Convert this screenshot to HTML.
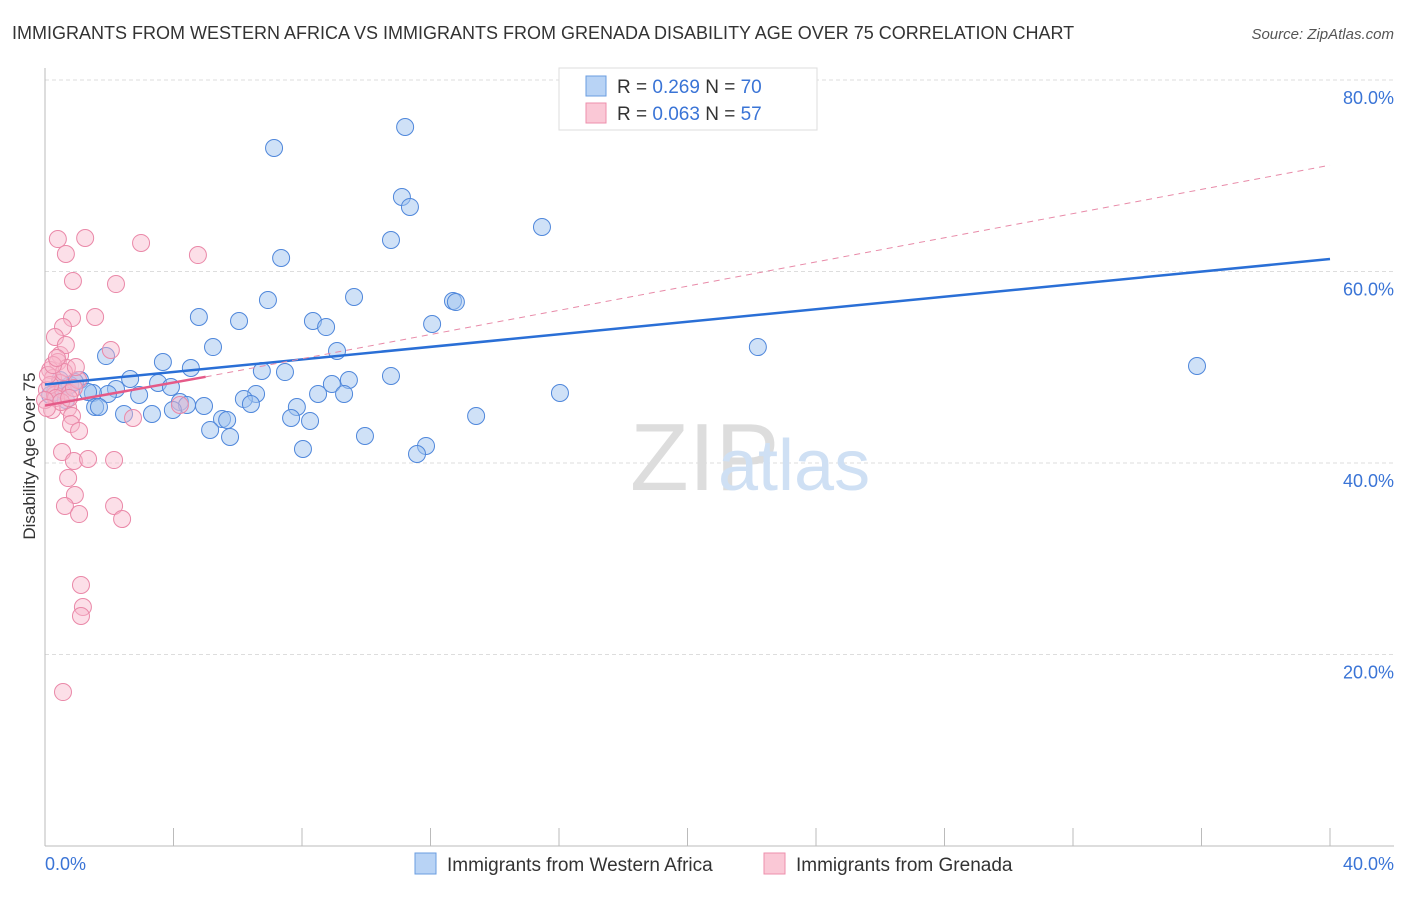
<!DOCTYPE html>
<html><head><meta charset="utf-8"><style>
body{margin:0;background:#fff;font-family:"Liberation Sans",sans-serif;}
svg text{font-family:"Liberation Sans",sans-serif;}
</style></head><body>
<svg width="1406" height="892">
<text x="12" y="39" font-size="18" fill="#333">IMMIGRANTS FROM WESTERN AFRICA VS IMMIGRANTS FROM GRENADA DISABILITY AGE OVER 75 CORRELATION CHART</text>
<text x="1394" y="39" font-size="15" fill="#555" font-style="italic" text-anchor="end">Source: ZipAtlas.com</text>
<g id="grid"></g>
<line x1="45" y1="68" x2="45" y2="846" stroke="#bbb"/>
<line x1="45" y1="846" x2="1394" y2="846" stroke="#bbb"/>
<text x="630" y="490" font-size="96" fill="#ddd" font-family="Liberation Serif">ZIP</text>
<text x="718" y="490" font-size="72" fill="#cfe0f4">atlas</text>
<text x="35" y="456" font-size="17" fill="#333" text-anchor="middle" transform="rotate(-90 35 456)">Disability Age Over 75</text>
<text x="45" y="870" font-size="18" fill="#3a74d6">0.0%</text>
<text x="1394" y="870" font-size="18" fill="#3a74d6" text-anchor="end">40.0%</text>
<g id="pts"></g>
<g id="lines"></g>
<g>
<rect x="559" y="68" width="258" height="62" fill="#fff" stroke="#ddd"/>
<rect x="586" y="76" width="20" height="20" fill="#b8d3f5" stroke="#6a9de0"/>
<text x="617" y="93" font-size="19" fill="#333">R = <tspan fill="#3a74d6">0.269</tspan>   N = <tspan fill="#3a74d6">70</tspan></text>
<rect x="586" y="103" width="20" height="20" fill="#fac8d6" stroke="#ee8fac"/>
<text x="617" y="120" font-size="19" fill="#333">R = <tspan fill="#3a74d6">0.063</tspan>   N = <tspan fill="#3a74d6">57</tspan></text>
</g>
<g>
<rect x="415" y="853" width="21" height="21" fill="#b8d3f5" stroke="#6a9de0"/>
<text x="447" y="871" font-size="19" fill="#333">Immigrants from Western Africa</text>
<rect x="764" y="853" width="21" height="21" fill="#fac8d6" stroke="#ee8fac"/>
<text x="796" y="871" font-size="19" fill="#333">Immigrants from Grenada</text>
</g>
</svg>
<script>
const yTicks=[20,40,60,80];
const xTicks=[0,4,8,12,16,20,24,28,32,36,40];
const bluePx=[[405,127],[274,148],[402,197],[410,207],[542,227],[391,240],[281,258],[268,300],[354,297],[453,301],[456,302],[199,317],[239,321],[313,321],[326,327],[432,324],[213,347],[337,351],[758,347],[106,356],[163,362],[191,368],[262,371],[285,372],[1197,366],[391,376],[130,379],[158,383],[80,380],[116,389],[171,387],[332,384],[349,380],[256,394],[560,393],[244,399],[318,394],[344,394],[139,395],[108,394],[93,393],[180,402],[187,405],[95,407],[99,407],[124,414],[152,414],[204,406],[251,404],[297,407],[476,416],[173,410],[222,419],[227,420],[291,418],[310,421],[210,430],[230,437],[365,436],[426,446],[303,449],[417,454],[62,388],[55,392],[70,385],[75,382],[50,395],[66,400],[88,392],[60,380]];
const pinkPx=[[58,239],[85,238],[141,243],[66,254],[198,255],[73,281],[116,284],[95,317],[72,318],[63,327],[55,337],[111,350],[60,355],[58,362],[67,368],[50,370],[53,378],[60,383],[47,390],[55,395],[63,390],[70,393],[78,380],[74,388],[52,410],[68,408],[180,405],[133,418],[72,416],[71,424],[79,431],[62,452],[74,461],[88,459],[114,460],[68,478],[75,495],[65,506],[114,506],[79,514],[122,519],[81,585],[83,607],[81,616],[63,692],[50,385],[48,375],[56,398],[64,372],[45,400],[53,365],[76,367],[61,402],[47,408],[66,345],[57,358],[69,398]];
// convert reading estimates to data values (x %, y %)
const blueX=bluePx.map(p=>+((p[0]-45)/32.125).toFixed(2));
const blueY=bluePx.map(p=>+((846-p[1])/9.575).toFixed(2));
const pinkX=pinkPx.map(p=>+((p[0]-45)/32.125).toFixed(2));
const pinkY=pinkPx.map(p=>+((846-p[1])/9.575).toFixed(2));
const blueTrend=[[0,48.2],[40,61.3]];
const pinkTrend=[[0,46.0],[5,49.0],[40,71.1]];
const NS='http://www.w3.org/2000/svg';
const sx=v=>45+v*32.125, sy=v=>846-v*9.575;
function mk(t,a,parent){const e=document.createElementNS(NS,t);for(const k in a)e.setAttribute(k,a[k]);document.getElementById(parent).appendChild(e);return e;}
yTicks.forEach(t=>{
 const l=mk('line',{x1:45,x2:1394,y1:sy(t),y2:sy(t),stroke:'#ddd','stroke-dasharray':'4,3'},'grid');
 
 
 const tx=mk('text',{x:1394,y:sy(t)+24,'font-size':18,fill:'#3a74d6','text-anchor':'end'},'grid');
 tx.textContent=t.toFixed(1)+'%';
 
 
});
xTicks.forEach(t=>{
 const l=mk('line',{x1:sx(t),x2:sx(t),y1:828,y2:846,stroke:'#bbb'},'grid');
 
 
});
blueX.forEach((x,i)=>{
 const c=mk('circle',{cx:sx(x),cy:sy(blueY[i]),r:8.5,fill:'rgba(160,196,240,0.5)',stroke:'#4f87db','stroke-width':1},'pts');
 
 
});
pinkX.forEach((x,i)=>{
 const c=mk('circle',{cx:sx(x),cy:sy(pinkY[i]),r:8.5,fill:'rgba(248,185,205,0.45)',stroke:'#ea88a8','stroke-width':1},'pts');
 
 
});
const bl=mk('line',{x1:sx(blueTrend[0][0]),y1:sy(blueTrend[0][1]),x2:sx(blueTrend[1][0]),y2:sy(blueTrend[1][1]),stroke:'#2a6fd6','stroke-width':2.5},'lines');


const pl=mk('line',{x1:sx(pinkTrend[0][0]),y1:sy(pinkTrend[0][1]),x2:sx(pinkTrend[1][0]),y2:sy(pinkTrend[1][1]),stroke:'#e55a88','stroke-width':2.5},'lines');


const pd=mk('line',{x1:sx(pinkTrend[1][0]),y1:sy(pinkTrend[1][1]),x2:sx(pinkTrend[2][0]),y2:sy(pinkTrend[2][1]),stroke:'#e88aa8','stroke-width':1,'stroke-dasharray':'6,5'},'lines');


</script>
</body></html>
